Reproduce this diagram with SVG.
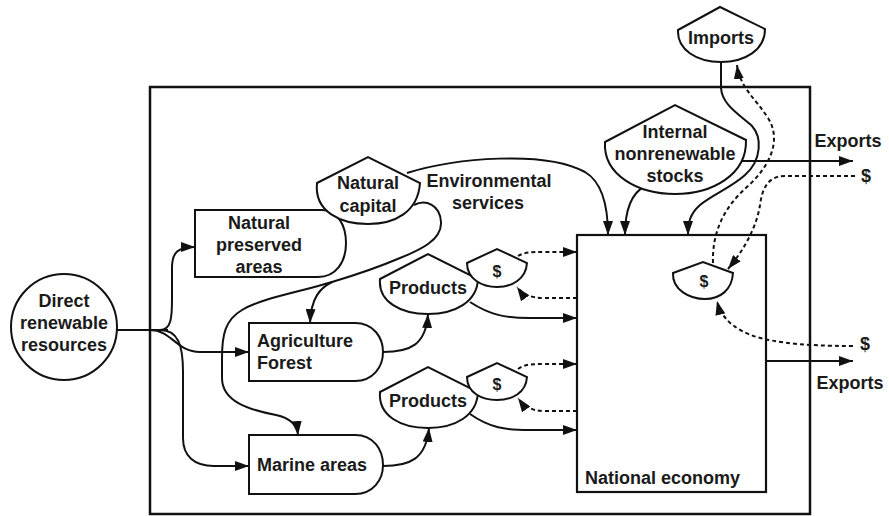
<svg xmlns="http://www.w3.org/2000/svg" width="889" height="516" viewBox="0 0 889 516">
  <style>
    .shape { fill: #fff; stroke: #111; stroke-width: 2; }
    .frame { fill: none; stroke: #111; stroke-width: 2.5; }
    .box { fill: none; stroke: #111; stroke-width: 2.2; }
    .flow { fill: none; stroke: #111; stroke-width: 2; marker-end: url(#arrow); }
    .line { fill: none; stroke: #111; stroke-width: 2; }
    .money { fill: none; stroke: #111; stroke-width: 2; stroke-dasharray: 4 3; marker-end: url(#arrow); }
    text { font-family: "Liberation Sans", Arial, Helvetica, sans-serif; font-weight: bold; font-size: 18px; fill: #1a1a1a; }
    .c { text-anchor: middle; }
    .sm { font-size: 16px; }
  </style>
  <defs>
    <marker id="arrow" markerUnits="userSpaceOnUse" markerWidth="14" markerHeight="10" refX="14" refY="5" orient="auto">
      <path d="M0,0 L14,5 L0,10 Z" fill="#111"/>
    </marker>
  </defs>
  <rect width="889" height="516" fill="#fff"/>

  <!-- system boundary -->
  <rect class="frame" x="150" y="87" width="660" height="427"/>

  <!-- national economy boundary (open, flows pass inside it) -->
  <g id="national-economy">
    <rect class="box" x="577" y="235" width="189" height="257"/>
    <text x="585" y="484">National economy</text>
  </g>

  <!-- connectors -->
  <g id="connectors">
    <!-- direct renewable resources trunk and branches -->
    <path class="line" d="M117,330 H168"/>
    <path class="flow" d="M160,330 C171,330 172,318 172,300 V268 C172,252 178,247 195,247"/>
    <path class="flow" d="M150,330 C172,330 176,352 200,352 H249"/>
    <path class="flow" d="M160,330 C178,330 183,345 183,372 V438 C183,456 194,466 214,466 H249"/>

    <!-- natural capital to agriculture and marine areas -->
    <path class="flow" d="M414,205 C426,199 440,205 441,222 C442,240 420,250 400,258 C372,270 352,276 332,282 C300,292 262,298 242,310 C225,320 222,335 222,358 V378 C222,402 250,410 276,415 C290,418 297,424 298,435"/>
    <path class="flow" d="M332,282 C320,288 311,298 310,323"/>

    <!-- environmental services -->
    <path class="flow" d="M407,173 C455,158 545,150 585,172 C602,182 608,205 608,235"/>

    <!-- internal stocks to economy -->
    <path class="flow" d="M645,186 C632,193 625,208 625,235"/>
    <!-- imports to economy -->
    <path class="flow" d="M721,62 V88 C722,105 740,115 752,126 C762,137 762,160 745,175 C732,187 712,195 700,205 C690,214 688,222 688,235"/>

    <!-- exports -->
    <path class="flow" d="M740,161 H853"/>
    <path class="flow" d="M766,361 H853"/>

    <!-- production to products -->
    <path class="flow" d="M383,352 C410,352 426,345 428,314"/>
    <path class="flow" d="M383,466 C410,466 426,459 429,428"/>

    <!-- products to economy -->
    <path class="flow" d="M470,302 C490,315 505,318 530,318 H577"/>
    <path class="flow" d="M470,414 C490,428 505,430 530,430 H577"/>

    <!-- money flows -->
    <path class="money" d="M518,256 C525,252 532,252 545,252 H577"/>
    <path class="money" d="M577,298 H545 C530,298 522,294 517,287"/>
    <path class="money" d="M518,369 C525,364 532,364 545,364 H577"/>
    <path class="money" d="M577,411 H545 C530,411 523,405 518,398"/>
    <path class="money" d="M713,263 C712,232 724,207 748,186 C770,166 782,140 768,118 C756,99 740,88 737,65"/>
    <path class="money" d="M855,176 H785 C767,176 762,190 760,205 C756,230 742,252 728,269"/>
    <path class="money" d="M853,346 C800,346 762,342 742,331 C727,323 720,313 717,301"/>
  </g>

  <!-- nodes -->
  <g id="direct-renewable-resources">
    <circle class="shape" cx="64" cy="327" r="53"/>
    <text class="c" x="64" y="307">Direct</text>
    <text class="c" x="64" y="329">renewable</text>
    <text class="c" x="64" y="351">resources</text>
  </g>

  <g id="natural-preserved-areas">
    <path class="shape" d="M195,210 H322 C338,210 346,226 346,243 C346,262 336,277 318,277 H195 Z"/>
    <text class="c" x="259" y="229">Natural</text>
    <text class="c" x="259" y="251">preserved</text>
    <text class="c" x="259" y="273">areas</text>
  </g>

  <g id="natural-capital">
    <path class="shape" d="M317,183 L368,157 L420,183 C418,212 395,224 368,224 C341,224 314,212 317,183 Z"/>
    <text class="c" x="368" y="189">Natural</text>
    <text class="c" x="368" y="212">capital</text>
  </g>

  <g id="environmental-services">
    <text class="c" x="489" y="187">Environmental</text>
    <text class="c" x="488" y="209">services</text>
  </g>

  <g id="agriculture-forest">
    <path class="shape" d="M249,323 H355 C374,323 383,338 383,352 C383,367 373,381 355,381 H249 Z"/>
    <text x="257" y="347">Agriculture</text>
    <text x="257" y="369">Forest</text>
  </g>

  <g id="marine-areas">
    <path class="shape" d="M249,435 H355 C374,435 383,450 383,465 C383,480 373,494 355,494 H249 Z"/>
    <text x="257" y="471">Marine areas</text>
  </g>

  <g id="products-1">
    <path class="shape" d="M380,279 L428,254 L478,279 C477,302 455,314 428,314 C401,314 378,302 380,279 Z"/>
    <text class="c" x="428" y="294">Products</text>
  </g>

  <g id="money-1">
    <path class="shape" d="M467,263 L497,249 L527,263 C526,279 512,287 497,287 C482,287 467,279 467,263 Z"/>
    <text class="c sm" x="497" y="277">$</text>
  </g>

  <g id="products-2">
    <path class="shape" d="M380,392 L428,367 L478,392 C477,416 455,428 428,428 C401,428 378,416 380,392 Z"/>
    <text class="c" x="428" y="407">Products</text>
  </g>

  <g id="money-2">
    <path class="shape" d="M467,377 L497,363 L527,377 C526,393 512,400 497,400 C482,400 467,393 467,377 Z"/>
    <text class="c sm" x="497" y="390">$</text>
  </g>

  <g id="money-3">
    <path class="shape" d="M673,273 L703,262 L733,273 C732,290 720,299 705,299 C690,299 672,290 673,273 Z"/>
    <text class="c sm" x="704" y="287">$</text>
  </g>

  <g id="internal-nonrenewable-stocks">
    <path class="shape" d="M605,142 L675,105 L746,140 C747,175 712,194 675,194 C638,194 603,175 605,142 Z"/>
    <text class="c" x="675" y="138">Internal</text>
    <text class="c" x="675" y="160">nonrenewable</text>
    <text class="c" x="675" y="182">stocks</text>
  </g>

  <g id="imports">
    <path class="shape" d="M678,30 L720,7 L765,29 C765,50 745,62 721,62 C697,62 677,50 678,30 Z"/>
    <text class="c" x="721" y="44">Imports</text>
  </g>

  <g id="exports-labels">
    <text class="c" x="848" y="147">Exports</text>
    <text class="c" x="850" y="389">Exports</text>
    <text class="c" x="866" y="182">$</text>
    <text class="c" x="865" y="350">$</text>
  </g>
</svg>
